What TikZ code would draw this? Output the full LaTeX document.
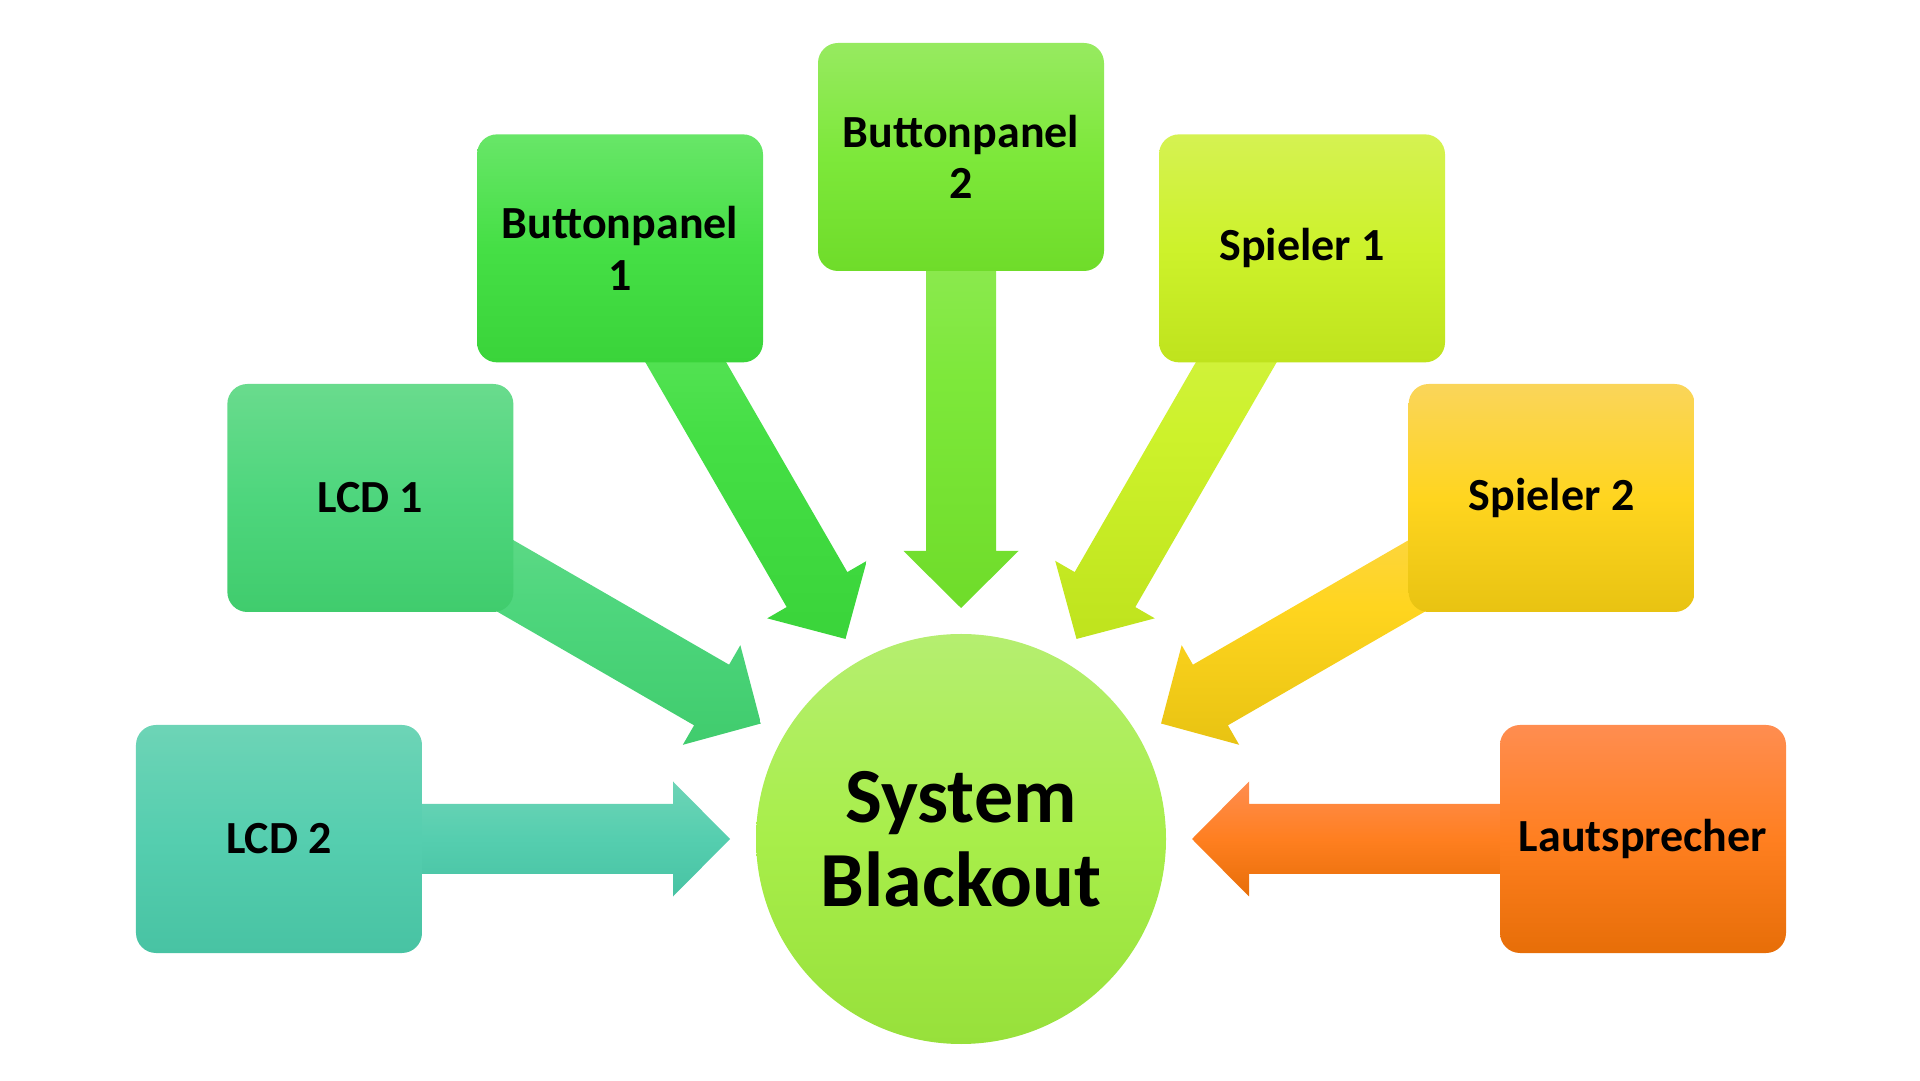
\documentclass[tikz,border=0pt]{standalone}
\usepackage{fontspec}
\setmainfont{Carlito}
\usepackage{tikz}
\usetikzlibrary{calc, backgrounds}
\definecolor{c0T}{HTML}{B5EE70}\definecolor{c0M}{HTML}{A8EE4A}\definecolor{c0B}{HTML}{97E03B}
\definecolor{c1T}{HTML}{6DD4B6}\definecolor{c1M}{HTML}{55CEAF}\definecolor{c1B}{HTML}{48C3A3}
\definecolor{c2T}{HTML}{69DB8D}\definecolor{c2M}{HTML}{4ED67D}\definecolor{c2B}{HTML}{40CC6D}
\definecolor{c3T}{HTML}{68E668}\definecolor{c3M}{HTML}{45DF45}\definecolor{c3B}{HTML}{3AD43A}
\definecolor{c4T}{HTML}{97EA60}\definecolor{c4M}{HTML}{7DE83A}\definecolor{c4B}{HTML}{6FDC2A}
\definecolor{c5T}{HTML}{D5F252}\definecolor{c5M}{HTML}{CDF22B}\definecolor{c5B}{HTML}{BFE31D}
\definecolor{c6T}{HTML}{FAD55A}\definecolor{c6M}{HTML}{FFD51F}\definecolor{c6B}{HTML}{E8C312}
\definecolor{c7T}{HTML}{FF8D50}\definecolor{c7M}{HTML}{FF7F20}\definecolor{c7B}{HTML}{E76E08}
\tikzset{fade/.style={top color=#1T, bottom color=#1B, middle color=#1M}}
\tikzstyle{box}=[rounded corners=20bp, minimum width=286bp, minimum height=228bp, inner sep=0pt, align=center, font=\bfseries\fontsize{46bp}{51bp}\selectfont]
% block arrow from a box to the hub
\newcommand{\feed}[2]{
	\coordinate (t) at ($(0.center)!231bp!(#1.center)$);
	\coordinate (h) at ($(t)!57bp!(#1.center)$);
	\path[fade=#2] ($(#1.center)!35bp!90:(t)$) -- ($(h)!35bp!90:(t)$) -- ($(h)!57.5bp!90:(t)$) -- (t)
		-- ($(h)!57.5bp!-90:(t)$) -- ($(h)!35bp!-90:(t)$) -- ($(#1.center)!35bp!-90:(t)$) -- cycle;
}

\begin{document}
\begin{tikzpicture}[x=1bp, y=1bp]
			\useasboundingbox (0, 0) rectangle (1920, 1080);
			\node[circle, minimum size=410bp, inner sep=0pt, fade=c0, align=center, font=\bfseries\fontsize{78bp}{84bp}\selectfont] (0) at (961, 241) {System\\Blackout};
			\node[box, fade=c1] (1) at ($(0)+(180:682)$) {LCD 2};
			\node[box, fade=c2] (2) at ($(0)+(150:682)$) {LCD 1};
			\node[box, fade=c3] (3) at ($(0)+(120:682)$) {Buttonpanel\\1};
			\node[box, fade=c4] (4) at ($(0)+(90:682)$) {Buttonpanel\\2};
			\node[box, fade=c5] (5) at ($(0)+(60:682)$) {Spieler 1};
			\node[box, fade=c6] (6) at ($(0)+(30:682)$) {Spieler 2};
			\node[box, fade=c7] (7) at ($(0)+(0:682)$) {Lautsprecher};
			\begin{scope}[on background layer]
				\feed{1}{c1} \feed{2}{c2} \feed{3}{c3} \feed{4}{c4}
				\feed{5}{c5} \feed{6}{c6} \feed{7}{c7}
			\end{scope}
		\end{tikzpicture}
\end{document}
